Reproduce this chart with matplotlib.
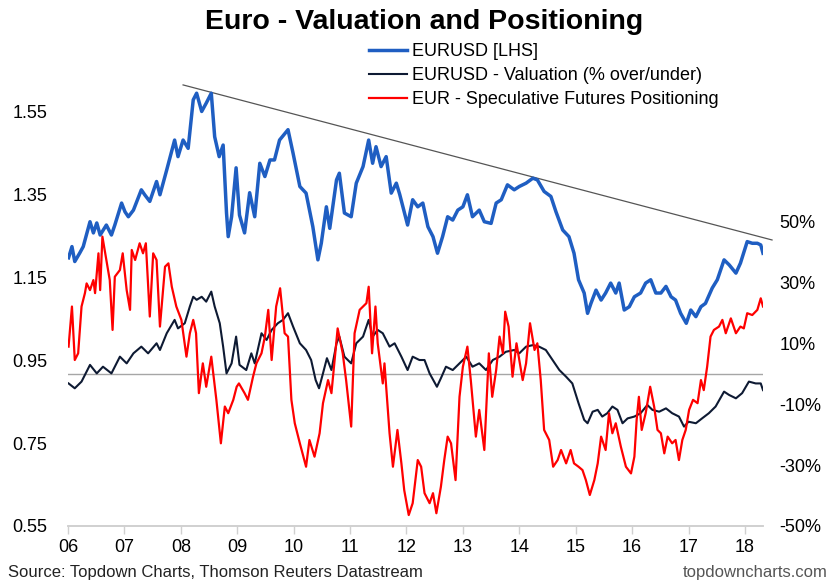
import numpy as np
import matplotlib.pyplot as plt

plt.rcParams['font.family'] = ['Liberation Sans', 'DejaVu Sans']

# =========================================================
# DATA
# =========================================================

# EURUSD spot [LHS]
eurusd_t = [
    2006.01, 2006.07, 2006.12, 2006.21, 2006.27, 2006.39, 2006.45, 2006.51, 2006.57, 2006.68,
    2006.77, 2006.83, 2006.95, 2007.01, 2007.07, 2007.16, 2007.30, 2007.36, 2007.45, 2007.57,
    2007.63, 2007.75, 2007.89, 2007.95, 2008.04, 2008.13, 2008.22, 2008.28, 2008.37, 2008.45,
    2008.54, 2008.60, 2008.68, 2008.75, 2008.81, 2008.84, 2008.90, 2008.98, 2009.04, 2009.13,
    2009.22, 2009.31, 2009.40, 2009.49, 2009.58, 2009.66, 2009.75, 2009.90, 2009.99, 2010.11,
    2010.22, 2010.34, 2010.43, 2010.49, 2010.58, 2010.64, 2010.76, 2010.81, 2010.90, 2011.02,
    2011.11, 2011.23, 2011.33, 2011.40, 2011.46, 2011.55, 2011.64, 2011.73, 2011.82, 2011.88,
    2012.02, 2012.11, 2012.20, 2012.29, 2012.38, 2012.47, 2012.55, 2012.64, 2012.73, 2012.82,
    2012.91, 2013.00, 2013.08, 2013.17, 2013.29, 2013.38, 2013.50, 2013.59, 2013.68, 2013.79,
    2013.91, 2014.00, 2014.12, 2014.24, 2014.32, 2014.44, 2014.56, 2014.65, 2014.77, 2014.88,
    2014.97, 2015.05, 2015.15, 2015.21, 2015.27, 2015.36, 2015.45, 2015.53, 2015.62, 2015.71,
    2015.77, 2015.86, 2015.95, 2016.04, 2016.15, 2016.24, 2016.33, 2016.42, 2016.51, 2016.60,
    2016.69, 2016.77, 2016.86, 2016.96, 2017.04, 2017.13, 2017.22, 2017.30, 2017.42, 2017.51,
    2017.63, 2017.72, 2017.84, 2017.92, 2018.04, 2018.13, 2018.22, 2018.28, 2018.32,
]
eurusd = [
    1.197, 1.224, 1.188, 1.209, 1.224, 1.284, 1.257, 1.281, 1.252, 1.276,
    1.252, 1.276, 1.329, 1.308, 1.296, 1.312, 1.361, 1.349, 1.333, 1.381,
    1.349, 1.409, 1.481, 1.441, 1.481, 1.461, 1.578, 1.594, 1.550, 1.570,
    1.594, 1.489, 1.441, 1.469, 1.305, 1.248, 1.296, 1.414, 1.300, 1.257,
    1.354, 1.296, 1.425, 1.393, 1.433, 1.433, 1.481, 1.506, 1.449, 1.369,
    1.353, 1.272, 1.192, 1.232, 1.320, 1.268, 1.385, 1.401, 1.305, 1.296,
    1.377, 1.417, 1.481, 1.425, 1.465, 1.417, 1.441, 1.353, 1.377, 1.350,
    1.276, 1.337, 1.320, 1.329, 1.272, 1.248, 1.208, 1.248, 1.296, 1.288,
    1.312, 1.320, 1.349, 1.296, 1.312, 1.284, 1.280, 1.329, 1.337, 1.373,
    1.361, 1.369, 1.377, 1.389, 1.385, 1.357, 1.345, 1.308, 1.264, 1.248,
    1.208, 1.144, 1.112, 1.063, 1.087, 1.119, 1.095, 1.112, 1.136, 1.112,
    1.136, 1.071, 1.079, 1.103, 1.112, 1.136, 1.144, 1.112, 1.112, 1.128,
    1.103, 1.095, 1.063, 1.039, 1.071, 1.055, 1.079, 1.087, 1.124, 1.144,
    1.192, 1.180, 1.160, 1.184, 1.236, 1.232, 1.232, 1.228, 1.208,
]

# EURUSD valuation, % over/under [RHS]
valuation_t = [
    2006.01, 2006.12, 2006.24, 2006.39, 2006.51, 2006.62, 2006.77, 2006.92, 2007.04, 2007.16,
    2007.30, 2007.42, 2007.57, 2007.63, 2007.75, 2007.89, 2007.95, 2008.07, 2008.16, 2008.22,
    2008.28, 2008.37, 2008.45, 2008.54, 2008.60, 2008.69, 2008.75, 2008.81, 2008.90, 2008.98,
    2009.04, 2009.16, 2009.25, 2009.31, 2009.43, 2009.52, 2009.61, 2009.72, 2009.81, 2009.90,
    2009.99, 2010.11, 2010.22, 2010.31, 2010.39, 2010.45, 2010.52, 2010.59, 2010.67, 2010.76,
    2010.81, 2010.90, 2011.02, 2011.11, 2011.23, 2011.33, 2011.40, 2011.49, 2011.58, 2011.70,
    2011.79, 2011.91, 2012.02, 2012.11, 2012.23, 2012.32, 2012.41, 2012.54, 2012.61, 2012.70,
    2012.82, 2012.94, 2013.06, 2013.17, 2013.29, 2013.41, 2013.53, 2013.65, 2013.76, 2013.91,
    2014.00, 2014.12, 2014.24, 2014.35, 2014.47, 2014.59, 2014.71, 2014.83, 2014.94, 2015.05,
    2015.15, 2015.21, 2015.30, 2015.39, 2015.47, 2015.56, 2015.65, 2015.74, 2015.83, 2015.92,
    2016.04, 2016.15, 2016.27, 2016.36, 2016.48, 2016.60, 2016.71, 2016.83, 2016.92, 2017.00,
    2017.13, 2017.24, 2017.36, 2017.48, 2017.63, 2017.72, 2017.84, 2017.95, 2018.07, 2018.19,
    2018.28, 2018.32,
]
valuation = [
    -3.1, -4.7, -2.5, 3.0, 0.2, 2.4, 0.2, 5.7, 3.5, 6.8,
    9.0, 6.8, 10.1, 7.9, 13.4, 17.8, 15.0, 16.7, 22.2, 25.4,
    24.4, 25.4, 23.8, 27.1, 22.2, 16.7, 9.0, 0.2, 3.5, 12.3,
    3.0, 1.3, 6.8, 3.5, 13.4, 11.2, 14.5, 16.7, 17.8, 20.0,
    15.6, 10.1, 7.9, 4.6, -2.0, -4.7, 0.2, 5.2, 1.3, 10.1,
    12.3, 5.7, 3.5, 10.1, 12.3, 17.8, 12.3, 14.5, 13.4, 9.0,
    10.1, 5.7, 1.3, 5.7, 4.6, 4.6, 0.2, -4.2, -1.4, 2.4,
    1.3, 3.5, 5.7, 2.4, 3.5, 1.3, 4.6, 5.7, 7.3, 7.9,
    6.8, 9.0, 9.5, 9.0, 7.9, 4.6, 1.3, -0.9, -3.1, -9.6,
    -15.1, -16.2, -12.4, -11.8, -14.0, -12.9, -10.7, -11.8, -16.2, -14.6,
    -14.0, -12.9, -10.2, -11.8, -12.4, -11.3, -12.9, -14.0, -17.3, -15.7,
    -16.2, -14.6, -12.9, -10.7, -5.8, -6.9, -8.0, -6.3, -2.5, -3.1,
    -3.1, -5.3,
]

# EUR speculative futures positioning [RHS]
positioning_t = [
    2006.01, 2006.07, 2006.12, 2006.18, 2006.24, 2006.30, 2006.33, 2006.39, 2006.45, 2006.48,
    2006.54, 2006.57, 2006.61, 2006.68, 2006.74, 2006.79, 2006.83, 2006.92, 2006.97, 2007.04,
    2007.10, 2007.13, 2007.19, 2007.27, 2007.33, 2007.38, 2007.45, 2007.51, 2007.57, 2007.63,
    2007.72, 2007.78, 2007.84, 2007.92, 2008.01, 2008.10, 2008.16, 2008.22, 2008.27, 2008.32,
    2008.39, 2008.45, 2008.54, 2008.63, 2008.71, 2008.78, 2008.84, 2008.93, 2008.99, 2009.03,
    2009.13, 2009.19, 2009.28, 2009.34, 2009.43, 2009.49, 2009.55, 2009.61, 2009.69, 2009.76,
    2009.84, 2009.90, 2009.96, 2010.02, 2010.11, 2010.22, 2010.28, 2010.37, 2010.46, 2010.52,
    2010.61, 2010.67, 2010.78, 2010.87, 2010.93, 2011.02, 2011.08, 2011.17, 2011.29, 2011.33,
    2011.39, 2011.45, 2011.49, 2011.58, 2011.61, 2011.70, 2011.76, 2011.84, 2011.91, 2011.96,
    2012.04, 2012.11, 2012.20, 2012.26, 2012.32, 2012.41, 2012.47, 2012.53, 2012.61, 2012.67,
    2012.73, 2012.79, 2012.87, 2012.94, 2013.00, 2013.08, 2013.14, 2013.23, 2013.29, 2013.38,
    2013.46, 2013.52, 2013.59, 2013.65, 2013.71, 2013.75, 2013.81, 2013.88, 2013.95, 2014.00,
    2014.06, 2014.12, 2014.19, 2014.27, 2014.32, 2014.38, 2014.44, 2014.53, 2014.60, 2014.68,
    2014.74, 2014.83, 2014.91, 2014.97, 2015.05, 2015.12, 2015.18, 2015.25, 2015.33, 2015.39,
    2015.45, 2015.53, 2015.59, 2015.65, 2015.71, 2015.80, 2015.89, 2015.98, 2016.04, 2016.08,
    2016.12, 2016.17, 2016.24, 2016.32, 2016.39, 2016.45, 2016.51, 2016.57, 2016.63, 2016.71,
    2016.77, 2016.83, 2016.89, 2016.95, 2017.01, 2017.08, 2017.16, 2017.22, 2017.27, 2017.33,
    2017.39, 2017.45, 2017.54, 2017.60, 2017.66, 2017.75, 2017.84, 2017.92, 2017.98, 2018.04,
    2018.13, 2018.22, 2018.28, 2018.32,
]
positioning = [
    9.0, 22.2, 4.6, 6.8, 22.2, 26.6, 29.8, 27.6, 30.9, 26.6,
    39.7, 27.6, 45.2, 37.5, 30.9, 14.5, 32.0, 34.2, 39.7, 27.6,
    21.1, 40.8, 37.5, 43.0, 39.7, 43.0, 18.9, 39.7, 37.5, 15.6,
    35.3, 36.4, 28.7, 22.2, 17.8, 5.7, 13.4, 17.8, 13.4, -6.3,
    3.5, -4.2, 5.7, -8.5, -22.8, -10.7, -12.9, -8.5, -4.2, -3.1,
    -6.3, -8.5, -0.9, 3.5, 6.8, 12.3, 21.1, 4.6, 22.2, 28.2,
    13.4, 12.3, -8.5, -16.2, -22.8, -30.5, -21.7, -27.2, -19.5, -9.6,
    -2.0, -6.3, 15.0, 6.8, -2.0, -17.3, 13.4, 21.1, 23.3, 28.7,
    6.8, 22.2, 10.1, -3.1, 3.5, -19.5, -30.5, -18.4, -29.4, -38.2,
    -46.4, -42.5, -28.3, -30.5, -39.2, -42.5, -39.2, -45.8, -37.1, -28.3,
    -20.6, -22.8, -34.9, -7.5, 2.4, 9.0, -2.0, -20.6, -11.8, -25.0,
    6.8, -7.5, 1.3, 12.3, 6.8, 20.5, 15.6, -0.9, 10.1, 4.6,
    -2.0, 3.5, 16.7, 7.9, 10.1, -2.0, -18.4, -21.7, -30.5, -28.3,
    -25.0, -29.4, -25.0, -29.4, -30.5, -31.6, -34.9, -39.8, -34.9, -29.4,
    -20.6, -25.0, -12.9, -19.5, -16.2, -23.9, -30.5, -32.7, -27.2, -15.1,
    -7.5, -18.4, -12.9, -4.2, -10.7, -18.4, -19.5, -26.1, -20.6, -22.8,
    -21.7, -28.3, -21.7, -18.4, -11.8, -8.5, -9.6, -2.0, -5.3, 2.4,
    12.3, 14.5, 15.6, 17.8, 13.4, 18.3, 13.4, 15.6, 15.0, 20.0,
    19.4, 21.1, 24.9, 22.2,
]

# downward trendline across the EURUSD peaks (LHS units)
trend_t = [2008.04, 2018.48]
trend_v = [1.614, 1.240]

years = list(range(2006, 2019))
year_labels = [f'{y % 100:02d}' for y in years]
left_ticks = [0.55, 0.75, 0.95, 1.15, 1.35, 1.55]
right_ticks = [-50, -30, -10, 10, 30, 50]

# =========================================================
# PLOT
# =========================================================

BLUE = '#1F5EC2'
NAVY = '#0E1A33'
RED = '#FF0000'

fig = plt.figure(figsize=(8.32, 5.88), dpi=100)
ax = fig.add_axes([68 / 832, 62 / 588, 695 / 832, 456 / 588])
ax2 = ax.twinx()

ax.plot(eurusd_t, eurusd, color=BLUE, lw=2.5, label='EURUSD [LHS]', zorder=3)
ax.plot(trend_t, trend_v, color='#555555', lw=0.9, clip_on=False, zorder=2)

ax2.axhline(0, color='#A6A6A6', lw=1.0, zorder=1)
ax2.plot(valuation_t, valuation, color=NAVY, lw=1.5,
         label='EURUSD - Valuation (% over/under)', zorder=3)
ax2.plot(positioning_t, positioning, color=RED, lw=1.6,
         label='EUR - Speculative Futures Positioning', zorder=4)

ax.set_xlim(2006, 2018.32)
ax.set_ylim(0.55, 1.65)
ax2.set_ylim(-50, 100)

ax.set_xticks(years)
ax.set_xticklabels(year_labels)
ax.set_yticks(left_ticks)
ax.set_yticklabels([f'{v:.2f}' for v in left_ticks])
ax2.set_yticks(right_ticks)
ax2.set_yticklabels([f'{v}%' for v in right_ticks])

for a in (ax, ax2):
    for s in ('top', 'left', 'right'):
        a.spines[s].set_visible(False)
    a.spines['bottom'].set_color('#D0D0D0')
    a.spines['bottom'].set_linewidth(1.2)
    a.tick_params(axis='y', length=0, labelsize=13)

ax.tick_params(axis='x', length=6, width=1.0, color='#D0D0D0', labelsize=13, pad=3)
ax.tick_params(axis='y', pad=15)
ax2.tick_params(axis='y', pad=12)

fig.text(424 / 832, 0.963, 'Euro - Valuation and Positioning', ha='center', va='center',
         fontsize=20.5, fontweight='bold')

h1, l1 = ax.get_legend_handles_labels()
h2, l2 = ax2.get_legend_handles_labels()
fig.legend(h1 + h2, l1 + l2, loc='upper left', bbox_to_anchor=(362 / 832, 1 - 36 / 588),
           frameon=False, fontsize=13, handlelength=2.1, handletextpad=0.25,
           labelspacing=0.38, borderaxespad=0)

fig.text(8 / 832, 1 - 573 / 588, 'Source: Topdown Charts, Thomson Reuters Datastream',
         ha='left', va='center', fontsize=12, color='#222222')
fig.text(828 / 832, 1 - 573 / 588, 'topdowncharts.com',
         ha='right', va='center', fontsize=12, color='#555555')

fig.savefig('out.png', dpi=100)
